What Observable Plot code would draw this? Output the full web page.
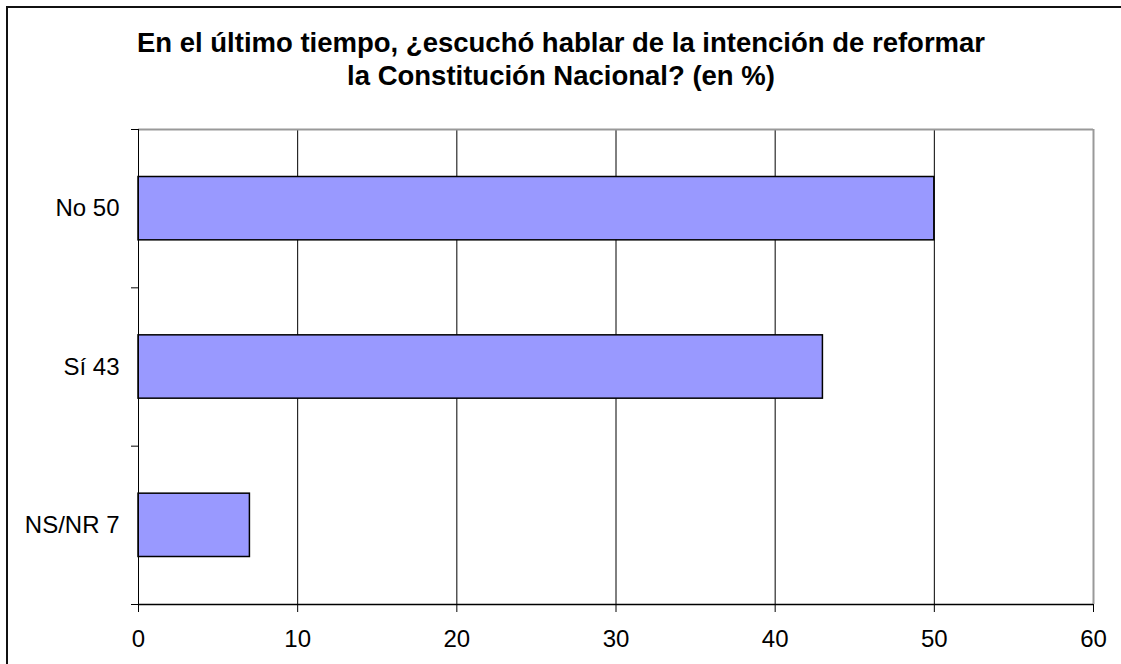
<!DOCTYPE html>
<html>
<head>
<meta charset="utf-8">
<script src="https://cdn.jsdelivr.net/npm/d3@7"></script>
<script src="https://cdn.jsdelivr.net/npm/@observablehq/plot@0.6"></script>
<style>
  html, body { margin: 0; padding: 0; background: white; }
  #wrap { position: relative; width: 1121px; height: 664px; overflow: hidden; background: white; }
  #chart { position: absolute; left: 0; top: 0; }
  #border { position: absolute; left: 6px; top: 6px; width: 1200px; height: 800px;
            border-left: 2px solid #111; border-top: 2px solid #111; pointer-events: none; }
  #title { position: absolute; left: 0; top: 26px; width: 1122px; text-align: center;
           font-family: "Liberation Sans", Arial, sans-serif; font-weight: bold;
           font-size: 27.5px; line-height: 33px; color: #000; }
</style>
</head>
<body>
<div id="wrap">
  <div id="chart"></div>
  <div id="border"></div>
  <div id="title">En el último tiempo, ¿escuchó hablar de la intención de reformar<br>la Constitución Nacional? (en %)</div>
</div>
<script>
const categories = ["No", "Sí", "NS/NR"];
const values = [50, 43, 7];
const xTicks = [0, 10, 20, 30, 40, 50, 60];

const n = categories.length;
const data = categories.map((c, i) => ({
  cat: c,
  val: values[i],
  pos: n - 1 - i,
  label: `${c} ${values[i]}`
}));

const gap = 0.3; // fraction of each band left empty above and below a bar

const chart = Plot.plot({
  width: 1121,
  height: 664,
  marginLeft: 138,
  marginRight: 28,
  marginTop: 129,
  marginBottom: 60,
  style: {
    fontFamily: "'Liberation Sans', Arial, sans-serif",
    fontSize: "24px",
    color: "#000",
    background: "transparent"
  },
  x: { domain: [0, 60] },
  y: { domain: [0, n] },
  marks: [
    Plot.ruleX(xTicks.slice(1, -1), { stroke: "#000", strokeWidth: 1 }),
    Plot.ruleY([n], { stroke: "#999", strokeWidth: 2 }),
    Plot.ruleX([60], { stroke: "#999", strokeWidth: 2 }),
    Plot.rectX(data, {
      x1: 0,
      x2: "val",
      y1: d => d.pos + gap,
      y2: d => d.pos + 1 - gap,
      fill: "#9999FF",
      stroke: "#000",
      strokeWidth: 1.5
    }),
    Plot.ruleX([0], { stroke: "#000", strokeWidth: 1 }),
    Plot.ruleY([0], { stroke: "#000", strokeWidth: 1.5 }),
    Plot.axisY({
      ticks: d3.range(n + 1),
      tickSize: 7,
      tickFormat: () => "",
      label: null,
      stroke: "#000"
    }),
    Plot.axisX({
      ticks: xTicks,
      tickSize: 8,
      tickPadding: 17,
      tickFormat: d => String(d),
      label: null,
      stroke: "#000",
      fill: "#000",
      fontSize: 24
    }),
    Plot.text(data, {
      y: d => d.pos + 0.5,
      frameAnchor: "left",
      textAnchor: "end",
      dx: -19,
      text: "label",
      fill: "#000",
      fontSize: 24
    })
  ]
});

document.getElementById("chart").appendChild(chart);
</script>
</body>
</html>
